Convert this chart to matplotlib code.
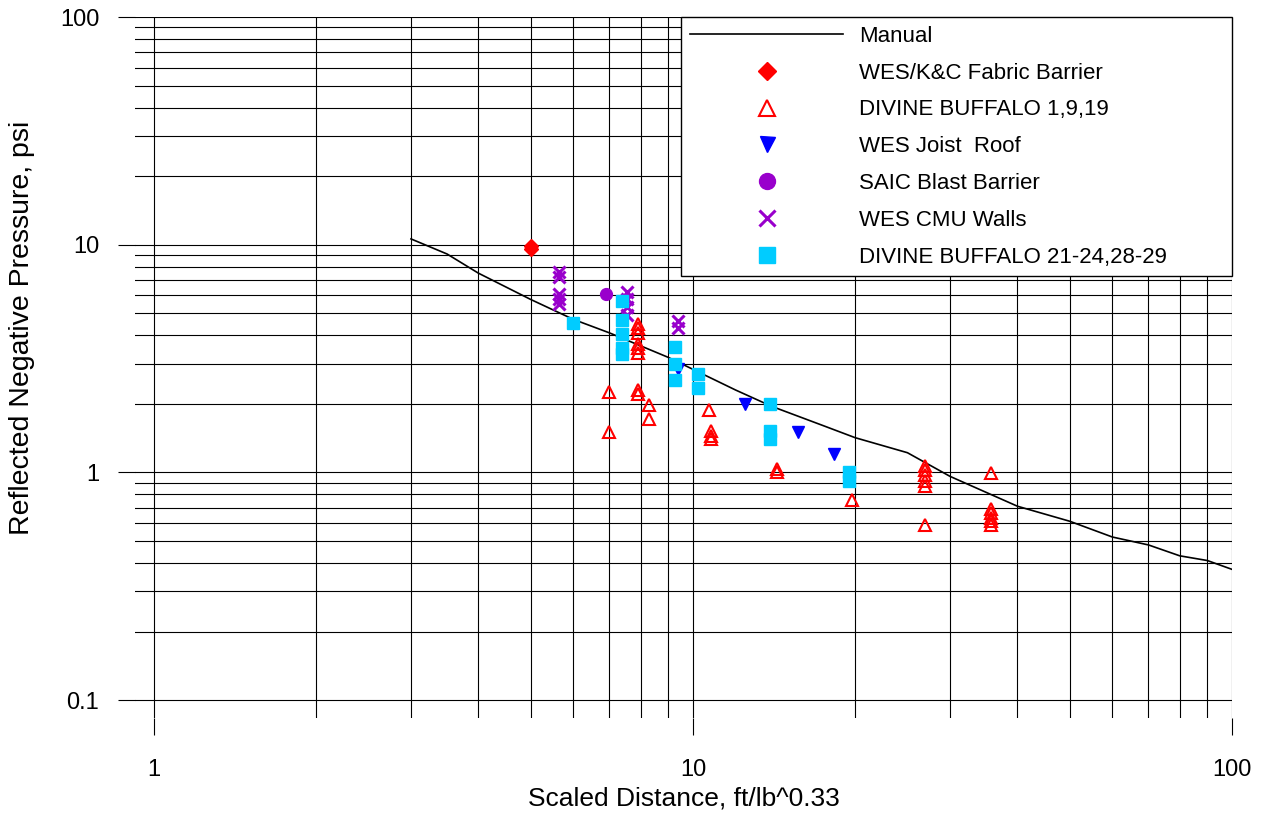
import matplotlib
matplotlib.use("Agg")
import matplotlib.pyplot as plt
from matplotlib.ticker import FixedLocator, FixedFormatter, NullFormatter

plt.rcParams['font.family'] = ['Liberation Sans', 'DejaVu Sans']

# ---- data ----
manual_x = [3, 3.5, 4, 5, 6, 7, 9, 12, 14, 17.5, 20, 25, 30, 40, 50, 60, 70, 80, 90, 100]
manual_y = [10.6, 9.1, 7.5, 5.75, 4.7, 4.1, 3.2, 2.3, 1.95, 1.6, 1.42, 1.22, 0.96, 0.71,
            0.61, 0.52, 0.48, 0.43, 0.41, 0.375]

fabric_x = [5.0, 5.0]
fabric_y = [9.6, 9.9]

db1_x = [7.0, 7.0,
         7.9, 7.9, 7.9, 7.9, 7.9, 7.9, 7.9, 7.9,
         8.3, 8.3,
         10.7, 10.8, 10.8, 10.8,
         14.3, 14.3,
         19.7,
         27, 27, 27, 27, 27, 27,
         35.8, 35.8, 35.8, 35.8, 35.8, 35.8]
db1_y = [2.25, 1.5,
         4.5, 4.3, 4.1, 3.65, 3.5, 3.35, 2.3, 2.2,
         1.98, 1.72,
         1.88, 1.52, 1.45, 1.4,
         1.03, 1.0,
         0.755,
         1.07, 1.02, 0.97, 0.92, 0.87, 0.59,
         0.99, 0.69, 0.66, 0.63, 0.61, 0.59]

joist_x = [9.4, 12.5, 15.7, 18.3]
joist_y = [2.85, 2.0, 1.5, 1.2]

saic_x = [6.9]
saic_y = [6.05]

cmu_x = [5.65, 5.65, 5.65, 5.65, 5.65, 7.55, 7.55, 7.55, 7.55, 9.4, 9.4]
cmu_y = [7.6, 7.2, 6.1, 5.8, 5.5, 6.2, 5.8, 5.3, 4.9, 4.6, 4.3]

db2_x = [6.0, 7.4, 7.4, 7.4, 7.4, 7.4, 9.25, 9.25, 9.25, 10.2, 10.2, 13.9, 13.9, 13.9, 19.5, 19.5]
db2_y = [4.55, 5.65, 4.65, 4.05, 3.5, 3.3, 3.55, 3.0, 2.55, 2.7, 2.35, 2.0, 1.52, 1.4, 1.0, 0.92]

x_major = [1, 10, 100]
x_labels = ['1', '10', '100']
y_major = [0.1, 1, 10, 100]
y_labels = ['0.1', '1', '10', '100']

# ---- figure ----
fig = plt.figure(figsize=(12.66, 8.13), dpi=100)
ax = fig.add_axes([135/1266, (813-718)/813, (1232-135)/1266, (718-17)/813])

ax.plot(manual_x, manual_y, color='black', lw=1.2, label='Manual', zorder=3)
ax.plot(fabric_x, fabric_y, ls='none', marker='D', ms=7, color='#FF0000',
        label='WES/K&C Fabric Barrier', zorder=4)
ax.plot(db1_x, db1_y, ls='none', marker='^', ms=8.5, mfc='none', mec='#FF0000', mew=1.5,
        label='DIVINE BUFFALO 1,9,19', zorder=4)
ax.plot(joist_x, joist_y, ls='none', marker='v', ms=8, color='#0000FF',
        label='WES Joist  Roof', zorder=4)
ax.plot(saic_x, saic_y, ls='none', marker='o', ms=8.5, color='#9900CC',
        label='SAIC Blast Barrier', zorder=4)
ax.plot(cmu_x, cmu_y, ls='none', marker='x', ms=8.5, mew=2.2, color='#9900CC',
        label='WES CMU Walls', zorder=4)
ax.plot(db2_x, db2_y, ls='none', marker='s', ms=8.8, color='#00CCFF',
        label='DIVINE BUFFALO 21-24,28-29', zorder=4)

ax.set_xscale('log')
ax.set_yscale('log')
ax.set_xlim(0.923, 100)
ax.set_ylim(0.0834, 100)

x_minor = [m * d for d in (1, 10) for m in range(2, 10)]
y_minor = [m * d for d in (0.1, 1, 10) for m in range(2, 10)]
ax.xaxis.set_major_locator(FixedLocator(x_major))
ax.xaxis.set_major_formatter(FixedFormatter(x_labels))
ax.xaxis.set_minor_locator(FixedLocator(x_minor))
ax.xaxis.set_minor_formatter(NullFormatter())
ax.yaxis.set_major_locator(FixedLocator(y_major))
ax.yaxis.set_major_formatter(FixedFormatter(y_labels))
ax.yaxis.set_minor_locator(FixedLocator(y_minor))
ax.yaxis.set_minor_formatter(NullFormatter())

ax.grid(True, which='both', color='black', lw=0.8)
ax.set_axisbelow(True)
for s in ax.spines.values():
    s.set_visible(False)
ax.tick_params(which='major', length=12.2, width=0.8, color='black', labelsize=17)
ax.tick_params(axis='y', which='major', pad=13.5)
ax.tick_params(axis='x', which='major', pad=17)
ax.tick_params(which='minor', length=0)

ax.set_xlabel('Scaled Distance, ft/lb^0.33', fontsize=19, labelpad=4)
ax.set_ylabel('Reflected Negative Pressure, psi', fontsize=20.5, labelpad=9)
ax.yaxis.set_label_coords(-0.0915, 0.556)

leg = ax.legend(loc='upper left', bbox_to_anchor=(0.4977, 0.629, 0.5023, 0.371),
                mode='expand', borderaxespad=0, fontsize=16, numpoints=1,
                handlelength=6.9, handletextpad=0.72, borderpad=0.4,
                labelspacing=0.71, markerscale=1.35, fancybox=False,
                framealpha=1, edgecolor='black')
leg.get_frame().set_linewidth(1.0)

fig.savefig('out.png', dpi=100)
